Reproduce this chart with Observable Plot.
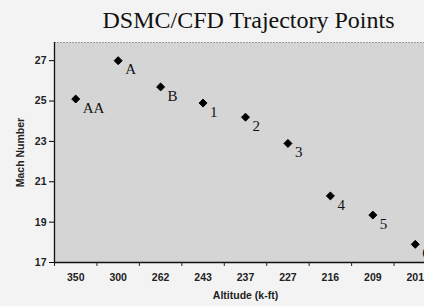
<!DOCTYPE html>
<html>
<head>
<meta charset="utf-8">
<script src="https://cdn.jsdelivr.net/npm/d3@7"></script>
<script src="https://cdn.jsdelivr.net/npm/@observablehq/plot@0.6"></script>
<style>
  html, body { margin: 0; padding: 0; background: #f3f3f3; overflow: hidden; }
  #chart svg { overflow: hidden; display: block; }
</style>
</head>
<body>
<div id="chart"></div>
<script>
const title = "DSMC/CFD Trajectory Points";
const altitudes = ["350", "300", "262", "243", "237", "227", "216", "209", "201"];
const pointLabels = ["AA", "A", "B", "1", "2", "3", "4", "5", "6"];
const mach = [25.1, 27.0, 25.7, 24.9, 24.2, 22.9, 20.3, 19.35, 17.9];
const yTicks = [17, 19, 21, 23, 25, 27];
const xLabel = "Altitude (k-ft)";
const yLabel = "Mach Number";

const data = altitudes.map((a, i) => ({i, alt: a, mach: mach[i], label: pointLabels[i]}));
const idx = altitudes.map((_, i) => i);
const bounds = altitudes.map((_, i) => i - 0.5).concat([altitudes.length - 0.5]);

const sans = "'Liberation Sans', Arial, sans-serif";
const serif = "'Liberation Serif', 'Times New Roman', serif";

const chart = Plot.plot({
  width: 424,
  height: 306,
  marginLeft: 54,
  marginRight: -12,
  marginTop: 42,
  marginBottom: 44,
  style: {background: "#f3f3f3", fontFamily: sans, overflow: "hidden"},
  x: {domain: [-0.5, altitudes.length - 0.5]},
  y: {domain: [17, 27.9]},
  marks: [
    Plot.frame({fill: "#d5d5d5", stroke: null}),
    Plot.ruleY([27.9], {stroke: "#9a9a9a", strokeDasharray: "2,1"}),
    Plot.ruleX([-0.5], {stroke: "#111", strokeWidth: 1.3}),
    Plot.ruleY([17], {stroke: "#111", strokeWidth: 1.3}),
    Plot.axisY({ticks: yTicks, tickSize: 5, tickPadding: 3, fontSize: 10.5, fontWeight: "bold",
      label: yLabel, labelAnchor: "center", labelArrow: "none", labelOffset: 38, fill: "#222"}),
    Plot.axisX({ticks: bounds, tickSize: 4, tickFormat: () => "", label: null, stroke: "#222"}),
    Plot.axisX({ticks: idx, tickSize: 0, tickPadding: 11, tickFormat: (d) => altitudes[d],
      fontSize: 10.5, fontWeight: "bold", fill: "#222",
      label: xLabel, labelAnchor: "center", labelArrow: "none", labelOffset: 36}),
    Plot.dot(data, {x: "i", y: "mach", symbol: "diamond2", r: 3.6, fill: "#000", stroke: "#000", strokeWidth: 1}),
    Plot.text(data, {x: "i", y: "mach", text: "label", dx: 7, dy: 9, textAnchor: "start",
      fontFamily: serif, fontSize: 15, fill: "#111"}),
    Plot.text([title], {frameAnchor: "top", text: (d) => d, dy: -15, dx: 3, lineAnchor: "bottom", fontFamily: serif, fontSize: 24, fill: "#111"})
  ]
});
document.getElementById("chart").appendChild(chart);
</script>
</body>
</html>
